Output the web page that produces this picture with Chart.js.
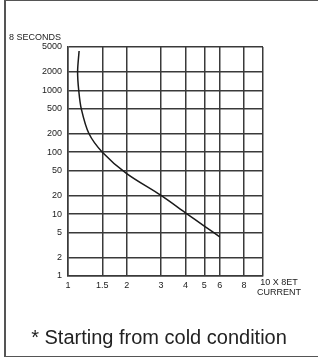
<!DOCTYPE html>
<html>
<head>
<meta charset="utf-8">
<script src="https://cdn.jsdelivr.net/npm/chart.js@4.4.0/dist/chart.umd.min.js"></script>
<style>
  html, body { margin: 0; padding: 0; background: #fff; }
  body { width: 318px; height: 358px; position: relative; overflow: hidden;
         font-family: "Liberation Sans", Arial, sans-serif; color: #222; }
  #frame { position: absolute; left: 4px; top: 0; width: 312px; height: 355px;
           border: 1.5px solid #555; border-left-width: 2px; }
  #chart { position: absolute; left: 0; top: 0; }
  .lbl { position: absolute; white-space: nowrap; font-size: 9px; line-height: 10px; }
  #ytitle { left: 9px; top: 32px; }
  #xtitle { left: 252px; top: 277px; width: 54px; text-align: center; }
  #note { position: absolute; left: 0; width: 318px; top: 325px; text-align: center;
          font-size: 20px; line-height: 24px; }
</style>
</head>
<body>
<div id="frame"></div>
<canvas id="chart" width="318" height="358"></canvas>
<div class="lbl" id="ytitle">8 SECONDS</div>
<div class="lbl" id="xtitle">10 X 8ET<br>CURRENT</div>
<div id="note">* Starting from cold condition</div>

<script>
// Tick values on both log axes
const xTicks = [1, 1.5, 2, 3, 4, 5, 6, 8, 10];
const yTicks = [1, 2, 5, 10, 20, 50, 100, 200, 500, 1000, 2000, 5000];

// Trip curve: multiple of set current vs seconds
const current = [1.14, 1.12, 1.135, 1.17, 1.28, 1.5, 2, 3, 4, 5, 6];
const seconds = [4300, 2000, 1000, 500, 200, 100, 45, 20, 10.5, 6.4, 4.3];

const GRID = '#3a3a3a';

// Forces the log scales to use exactly the chart's tick values
const fixTicks = vals => scale => { scale.ticks = vals.map(v => ({ value: v })); };

new Chart(document.getElementById('chart'), {
  type: 'line',
  data: {
    datasets: [{
      data: current.map((c, i) => ({ x: c, y: seconds[i] })),
      borderColor: '#1a1a1a',
      borderWidth: 1.5,
      pointRadius: 0,
      tension: 0.3,
      fill: false,
    }],
  },
  options: {
    responsive: false,
    animation: false,
    layout: { padding: { top: 47, right: 55, left: 0, bottom: 0 } },
    plugins: { legend: { display: false }, tooltip: { enabled: false } },
    scales: {
      x: {
        type: 'logarithmic',
        min: 1,
        max: 10,
        afterBuildTicks: fixTicks(xTicks),
        afterFit: s => { s.height = 82; },
        grid: { color: GRID, lineWidth: 1.5, drawTicks: false },
        border: { display: true, color: GRID, width: 1.5 },
        ticks: {
          autoSkip: false, maxRotation: 0, padding: 4,
          color: '#222',
          font: { family: 'Liberation Sans', size: 9 },
          callback: v => (v === 10 ? '' : String(v)),
        },
      },
      y: {
        type: 'logarithmic',
        min: 1,
        max: 5000,
        afterBuildTicks: fixTicks(yTicks),
        afterFit: s => { s.width = 68; },
        grid: { color: GRID, lineWidth: 1.5, drawTicks: false },
        border: { display: true, color: GRID, width: 1.5 },
        ticks: {
          autoSkip: false, padding: 6,
          color: '#222',
          font: { family: 'Liberation Sans', size: 9 },
          callback: v => String(v),
        },
      },
    },
  },
});
</script>
</body>
</html>
